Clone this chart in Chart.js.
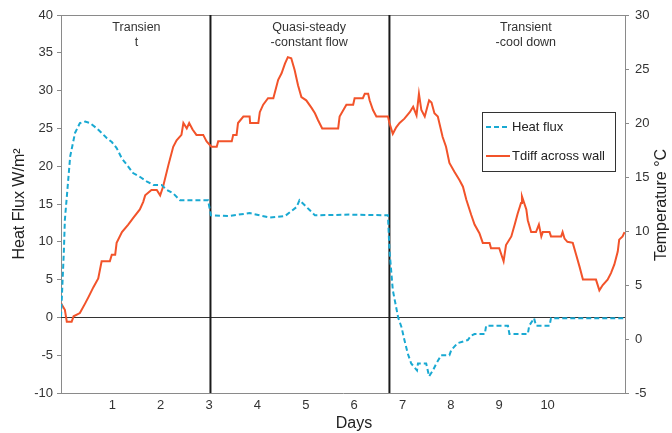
<!DOCTYPE html>
<html>
<head>
<meta charset="utf-8">
<script src="https://cdn.jsdelivr.net/npm/chart.js@4.4.0/dist/chart.umd.min.js"></script>
<style>
  html, body { margin: 0; padding: 0; background: #fff; }
  #wrap { width: 672px; height: 433px; position: relative; }
</style>
</head>
<body>
<div id="wrap"><canvas id="chart"></canvas></div>
<script>
// heat flux (left axis, W/m2) against days
const fluxDays = [-0.06, 0.0, 0.02, 0.13, 0.23, 0.33, 0.44, 0.54, 0.68, 0.78, 0.89, 0.99, 1.09, 1.2, 1.3, 1.43, 1.57, 1.71, 1.85, 2.02, 2.12, 2.26, 2.4, 2.98,
  3.04, 3.4, 3.84, 4.26, 4.57, 4.81, 4.87, 5.08, 5.19, 5.91, 6.7,
  6.73, 6.8, 6.91, 6.98, 7.04, 7.11, 7.18, 7.3, 7.32, 7.49, 7.55, 7.63, 7.7, 7.8, 7.97, 8.01, 8.14, 8.35, 8.42, 8.49, 8.7, 8.73, 9.18, 9.21, 9.59, 9.62, 9.72, 9.76, 10.04, 10.07, 11.59];
const fluxValues = [0.1, 8.9, 12.9, 21.3, 24.4, 25.7, 25.9, 25.7, 25.0, 24.4, 23.7, 23.2, 22.4, 21.0, 20.2, 19.1, 18.6, 18.0, 17.5, 17.5, 16.9, 16.4, 15.5, 15.5,
  13.5, 13.4, 13.8, 13.2, 13.4, 14.6, 15.5, 14.2, 13.5, 13.6, 13.5,
  8.9, 3.6, 0.0, -1.3, -3.0, -4.8, -6.1, -7.0, -6.1, -6.1, -7.8, -7.0, -6.1, -5.0, -5.0, -4.3, -3.4, -3.0, -2.4, -2.2, -2.2, -1.1, -1.1, -2.2, -2.2, -1.1, -0.1, -1.1, -1.1, -0.1, -0.1];

// temperature difference across wall (right axis, degC) against days
const tdiffDays = [-0.06, 0.02, 0.06, 0.16, 0.2, 0.33, 0.44, 0.51, 0.61, 0.71, 0.78, 0.95, 0.99, 1.06, 1.09, 1.2, 1.33, 1.43, 1.57, 1.64, 1.68, 1.81, 1.92, 1.99,
  2.05, 2.16, 2.26, 2.33, 2.43, 2.47, 2.54, 2.59, 2.66, 2.74, 2.88, 2.95, 3.05, 3.16, 3.19, 3.47, 3.5, 3.57, 3.6, 3.71, 3.84, 3.85, 4.02, 4.05, 4.12, 4.22,
  4.33, 4.43, 4.5, 4.57, 4.63, 4.7, 4.77, 4.84, 4.91, 5.01, 5.12, 5.19, 5.25, 5.34, 5.67, 5.7, 5.84, 5.98, 6.01, 6.18, 6.22, 6.29, 6.32, 6.39, 6.46, 6.7,
  6.73, 6.8, 6.87, 6.94, 7.04, 7.15, 7.22, 7.29, 7.34, 7.39, 7.46, 7.55, 7.6, 7.66, 7.73, 7.83, 7.9, 7.97, 8.07, 8.18, 8.25, 8.32, 8.42, 8.49, 8.59, 8.66,
  8.8, 8.83, 9.0, 9.09, 9.14, 9.25, 9.32, 9.38, 9.45, 9.47, 9.56, 9.59, 9.66, 9.76, 9.82, 9.87, 9.9, 10.04, 10.07, 10.28, 10.31, 10.35, 10.41, 10.52, 10.59,
  10.66, 10.73, 11.0, 11.07, 11.14, 11.24, 11.31, 11.38, 11.45, 11.48, 11.55, 11.59];
const tdiffValues = [3.3, 2.7, 1.6, 1.6, 2.1, 2.4, 3.3, 3.9, 4.8, 5.6, 7.2, 7.2, 7.8, 7.8, 8.9, 9.9, 10.6, 11.2, 12.0, 12.7, 13.3, 13.8, 13.8, 13.3,
  14.1, 16.1, 17.8, 18.4, 18.9, 20.0, 19.5, 20.0, 19.4, 18.9, 18.9, 18.3, 17.8, 17.8, 18.3, 18.3, 18.9, 18.9, 20.0, 20.6, 20.6, 20.0, 20.0, 21.0, 21.7, 22.3,
  22.3, 24.0, 24.6, 25.5, 26.1, 26.0, 24.9, 23.5, 22.4, 22.1, 21.4, 20.9, 20.3, 19.5, 19.5, 20.6, 21.7, 21.7, 22.3, 22.3, 22.7, 22.7, 22.1, 21.2, 20.6, 20.6,
  20.0, 19.0, 19.6, 20.0, 20.4, 21.0, 21.5, 20.7, 22.7, 21.2, 20.6, 22.1, 21.9, 20.9, 20.6, 18.7, 17.8, 16.3, 15.5, 14.7, 14.1, 12.9, 11.5, 10.6, 9.8, 8.9,
  8.9, 8.4, 8.4, 7.2, 8.7, 9.5, 10.6, 11.6, 12.6, 13.2, 12.0, 11.0, 9.9, 9.9, 10.6, 9.5, 9.9, 9.9, 9.5, 9.5, 9.9, 9.3, 9.0, 8.9, 7.8,
  6.7, 5.5, 5.5, 4.5, 5.0, 5.5, 6.1, 6.9, 8.1, 9.2, 9.5, 9.9];

const xTickLabels = [1, 2, 3, 4, 5, 6, 7, 8, 9, 10];
const phaseLines = [3.03, 6.73];
const phaseLabels = [
  { x: 1.5, lines: ['Transien', 't'] },
  { x: 5.07, lines: ['Quasi-steady', '-constant flow'] },
  { x: 9.55, lines: ['Transient', '-cool down'] }
];
const seriesNames = ['Heat flux', 'Tdiff across wall'];

const FONT = "'Liberation Sans', Arial, sans-serif";
const BLUE = '#19a9d2';
const ORANGE = '#f2532a';

function pairs(xs, ys) {
  return xs.map((x, i) => ({ x: x, y: ys[i] }));
}

const extras = {
  id: 'extras',
  beforeDatasetsDraw(chart) {
    const ctx = chart.ctx, a = chart.chartArea;
    const x = chart.scales.x, y = chart.scales.y;
    ctx.save();
    // top frame line
    ctx.strokeStyle = '#8a8a8a';
    ctx.lineWidth = 1;
    ctx.beginPath();
    ctx.moveTo(a.left, a.top + 0.5);
    ctx.lineTo(a.right, a.top + 0.5);
    ctx.stroke();
    // zero line
    const y0 = Math.round(y.getPixelForValue(0)) + 0.5;
    ctx.strokeStyle = '#333';
    ctx.beginPath();
    ctx.moveTo(a.left, y0);
    ctx.lineTo(a.right, y0);
    ctx.stroke();
    // phase dividers
    ctx.strokeStyle = '#1a1a1a';
    ctx.lineWidth = 2;
    phaseLines.forEach(d => {
      const px = x.getPixelForValue(d);
      ctx.beginPath();
      ctx.moveTo(px, a.top);
      ctx.lineTo(px, a.bottom);
      ctx.stroke();
    });
    ctx.restore();
  },
  afterDraw(chart) {
    const ctx = chart.ctx, a = chart.chartArea;
    const x = chart.scales.x;
    ctx.save();
    ctx.fillStyle = '#333';
    ctx.font = '12.5px ' + FONT;
    ctx.textAlign = 'center';
    ctx.textBaseline = 'middle';
    phaseLabels.forEach(p => {
      const px = x.getPixelForValue(p.x);
      p.lines.forEach((t, i) => ctx.fillText(t, px, a.top + 13 + i * 15));
    });

    // legend box
    const lx = 482, ly = 112, lw = 133, lh = 59;
    ctx.strokeStyle = '#333';
    ctx.lineWidth = 1;
    ctx.strokeRect(lx + 0.5, ly + 0.5, lw, lh);
    ctx.lineWidth = 2;
    ctx.strokeStyle = BLUE;
    ctx.setLineDash([5, 3]);
    ctx.beginPath();
    ctx.moveTo(lx + 4, ly + 15);
    ctx.lineTo(lx + 26, ly + 15);
    ctx.stroke();
    ctx.setLineDash([]);
    ctx.strokeStyle = ORANGE;
    ctx.beginPath();
    ctx.moveTo(lx + 4, ly + 44);
    ctx.lineTo(lx + 28, ly + 44);
    ctx.stroke();
    ctx.fillStyle = '#222';
    ctx.font = '13px ' + FONT;
    ctx.textAlign = 'left';
    ctx.fillText(seriesNames[0], lx + 30, ly + 15);
    ctx.fillText(seriesNames[1], lx + 30, ly + 44);

    // axis titles
    ctx.font = '16px ' + FONT;
    ctx.fillStyle = '#222';
    ctx.textAlign = 'center';
    ctx.fillText('Days', 354, 424);
    ctx.translate(20, 204);
    ctx.rotate(-Math.PI / 2);
    ctx.fillText('Heat Flux W/m\u00B2', 0, 0);
    ctx.restore();
    ctx.save();
    ctx.font = '16px ' + FONT;
    ctx.fillStyle = '#222';
    ctx.textAlign = 'center';
    ctx.textBaseline = 'middle';
    ctx.translate(662, 205);
    ctx.rotate(-Math.PI / 2);
    ctx.fillText('Temperature \u00B0C', 0, 0);
    ctx.restore();
  }
};

new Chart(document.getElementById('chart'), {
  type: 'line',
  data: {
    datasets: [
      {
        label: seriesNames[0],
        data: pairs(fluxDays, fluxValues),
        yAxisID: 'y',
        borderColor: BLUE,
        borderWidth: 2,
        borderDash: [5, 3],
        pointRadius: 0,
        fill: false,
        tension: 0
      },
      {
        label: seriesNames[1],
        data: pairs(tdiffDays, tdiffValues),
        yAxisID: 'y2',
        borderColor: ORANGE,
        borderWidth: 2,
        pointRadius: 0,
        fill: false,
        tension: 0
      }
    ]
  },
  options: {
    responsive: true,
    maintainAspectRatio: false,
    animation: false,
    layout: { padding: { top: 15, left: 0, right: 0, bottom: 0 } },
    plugins: {
      legend: { display: false },
      tooltip: { enabled: false }
    },
    scales: {
      x: {
        type: 'linear',
        min: -0.06,
        max: 11.6,
        afterBuildTicks(s) { s.ticks = xTickLabels.map(v => ({ value: v })); },
        afterFit(s) { s.height = 40; },
        grid: { display: false, drawTicks: false },
        border: { display: true, color: '#8a8a8a', width: 1 },
        ticks: { color: '#333', font: { family: FONT, size: 13 }, padding: 5, maxRotation: 0 }
      },
      y: {
        position: 'left',
        min: -10,
        max: 40,
        afterFit(s) { s.width = 61; },
        grid: { display: true, drawOnChartArea: false, drawTicks: true, tickLength: 4, color: '#8a8a8a' },
        border: { display: true, color: '#8a8a8a', width: 1 },
        ticks: { stepSize: 5, color: '#333', font: { family: FONT, size: 13 }, padding: 4 }
      },
      y2: {
        position: 'right',
        min: -5,
        max: 30,
        afterFit(s) { s.width = 47; },
        grid: { display: true, drawOnChartArea: false, drawTicks: true, tickLength: 4, color: '#8a8a8a' },
        border: { display: true, color: '#8a8a8a', width: 1 },
        ticks: { stepSize: 5, color: '#333', font: { family: FONT, size: 13 }, padding: 6 }
      }
    }
  },
  plugins: [extras]
});
</script>
</body>
</html>
